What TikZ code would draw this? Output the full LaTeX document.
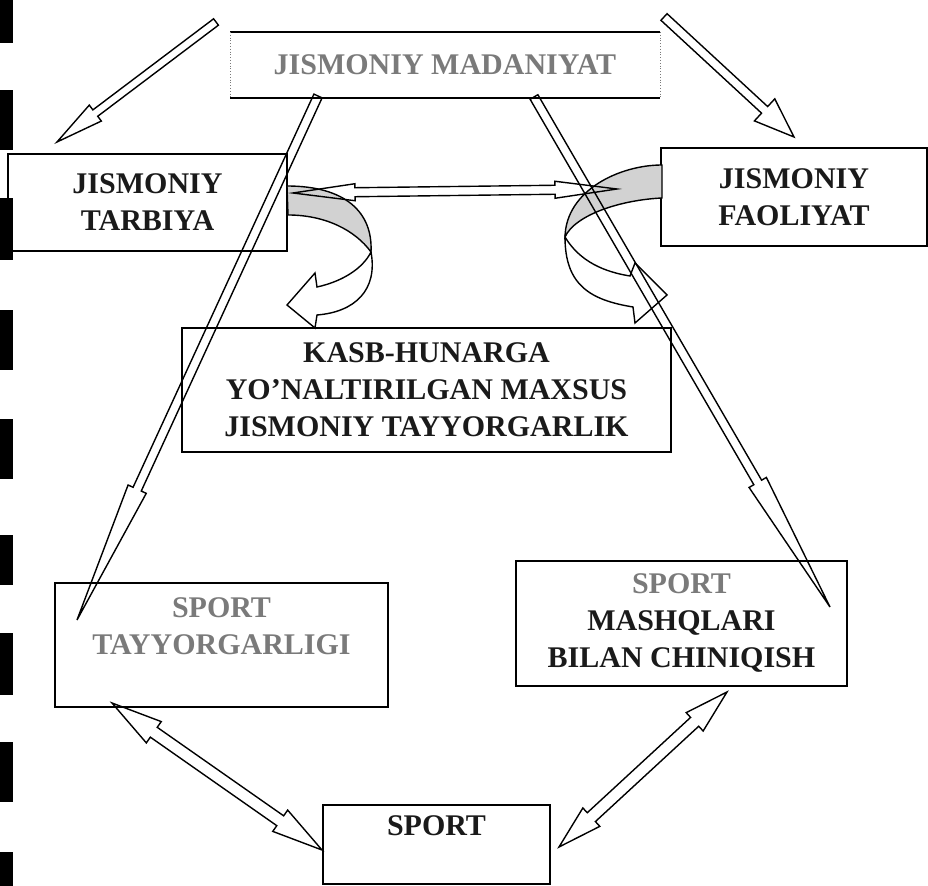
\documentclass[tikz,border=0pt]{standalone}
\usepackage{fontspec}
\setmainfont{Liberation Serif}
\usetikzlibrary{calc}
\definecolor{cInk}{HTML}{1A1A1A}
\definecolor{cFaint}{HTML}{7A7A7A}
\definecolor{cBand}{HTML}{D2D2D2}

\begin{document}
\begin{tikzpicture}[
  x=0.5pt, y=-0.5pt,
  box/.style={draw, line width=1pt, align=center, inner sep=0pt, text=cInk,
    font=\bfseries\fontsize{15}{18.5}\selectfont},
  arr/.style={line width=0.7pt, line join=miter},
  onearrow/.style n args={3}{arr, to path={let \p1=($(\tikztotarget)!#3!(\tikztostart)$) in
    ($(\tikztostart)!#1!90:(\tikztotarget)$) -- ($(\p1)!#1!90:(\tikztotarget)$)
    -- ($(\p1)!#2!90:(\tikztotarget)$) -- (\tikztotarget)
    -- ($(\p1)!#2!-90:(\tikztotarget)$) -- ($(\p1)!#1!-90:(\tikztotarget)$)
    -- ($(\tikztostart)!#1!-90:(\tikztotarget)$) -- cycle}},
  twoarrow/.style n args={3}{arr, to path={let \p1=($(\tikztostart)!#3!(\tikztotarget)$),
    \p2=($(\tikztotarget)!#3!(\tikztostart)$) in
    (\tikztostart) -- ($(\p1)!#2!90:(\tikztotarget)$) -- ($(\p1)!#1!90:(\tikztotarget)$)
    -- ($(\p2)!#1!90:(\tikztotarget)$) -- ($(\p2)!#2!90:(\tikztotarget)$) -- (\tikztotarget)
    -- ($(\p2)!#2!-90:(\tikztotarget)$) -- ($(\p2)!#1!-90:(\tikztotarget)$)
    -- ($(\p1)!#1!-90:(\tikztotarget)$) -- ($(\p1)!#2!-90:(\tikztotarget)$) -- cycle}},
]
\useasboundingbox (0,0) rectangle (928,886);
% scan marks on the left margin
\foreach \a/\b in {0/43, 90/150, 198/260, 310/370, 419/479, 535/585, 633/695, 742/802, 852/886}
  \fill[black] (0,\a) rectangle (13,\b);

% boxes
\node[box, draw=none, text=cFaint, minimum width=214pt, minimum height=32pt] (madaniyat) at (445,65) {JISMONIY MADANIYAT};
\draw[line width=1pt] (madaniyat.north west) -- (madaniyat.north east);
\draw[line width=1pt] (madaniyat.south west) -- (madaniyat.south east);
\draw[densely dotted, cFaint] (madaniyat.north west) -- (madaniyat.south west);
\draw[densely dotted, cFaint] (madaniyat.north east) -- (madaniyat.south east);
\node[box, minimum width=139.5pt, minimum height=48.5pt] (tarbiya) at (147.5,202.5) {JISMONIY\\TARBIYA};
\node[box, minimum width=133pt, minimum height=49pt] (faoliyat) at (794,197) {JISMONIY\\FAOLIYAT};
\node[box, minimum width=244.5pt, minimum height=62pt] (kasb) at (426.5,390) {KASB-HUNARGA\\YO'NALTIRILGAN MAXSUS\\JISMONIY TAYYORGARLIK};
\node[box, text=cFaint, minimum width=166.5pt, minimum height=62pt] (tayyor) at (221.5,645) {SPORT\\TAYYORGARLIGI\\~};
\node[box, minimum width=165.5pt, minimum height=62.5pt] (mashq) at (681.5,623.5) {{\color{cFaint}SPORT}\\MASHQLARI\\BILAN CHINIQISH};
\node[box, minimum width=113.5pt, minimum height=39.5pt] (sport) at (436.5,844.5) {SPORT\\~};

% curved arrows into the middle box
\filldraw[arr, fill=cBand] (287,186) .. controls (345,186) and (373,212) .. (371,252)
  .. controls (355,230) and (325,215) .. (288,215) -- cycle;
\filldraw[arr, fill=white] (371,252) .. controls (378,290) and (355,312) .. (317,315) -- (315,328)
  -- (287,305) -- (315,273) -- (317,287) .. controls (340,282) and (362,270) .. (371,252) -- cycle;
\filldraw[arr, fill=cBand] (662,165) .. controls (620,165) and (566,190) .. (565,237)
  .. controls (575,215) and (620,200) .. (662,198) -- cycle;
\filldraw[arr, fill=white] (565,237) .. controls (580,262) and (605,272) .. (630,276) -- (635,263)
  -- (667,295) -- (635,323) -- (633,307) .. controls (590,300) and (565,285) .. (565,237) -- cycle;

% arrow ends
\coordinate (tl-s) at (216,22);
\coordinate (tl-e) at (57,142);
\coordinate (tr-s) at (664,17);
\coordinate (tr-e) at (794,137);
\coordinate (mid-l) at (293,193);
\coordinate (mid-r) at (617,189);
\coordinate (ll-s) at (318,96);
\coordinate (ll-e) at (77,620);
\coordinate (rl-s) at (534,97);
\coordinate (rl-e) at (830,607);
\coordinate (bl-a) at (112,703);
\coordinate (bl-b) at (322,850);
\coordinate (br-a) at (727,692);
\coordinate (br-b) at (559,847);

\draw[twoarrow={2.25pt}{4.25pt}{31pt}] (mid-l) to (mid-r);
\draw[onearrow={2.25pt}{5pt}{72pt}] (ll-s) to (ll-e);
\draw[onearrow={2.25pt}{5pt}{72pt}] (rl-s) to (rl-e);
\draw[onearrow={2pt}{5pt}{24pt}] (tl-s) to (tl-e);
\draw[onearrow={2.25pt}{7.5pt}{20pt}] (tr-s) to (tr-e);
\draw[twoarrow={3pt}{6.5pt}{25.5pt}] (bl-a) to (bl-b);
\draw[twoarrow={3pt}{6.25pt}{22pt}] (br-a) to (br-b);
\end{tikzpicture}
\end{document}
